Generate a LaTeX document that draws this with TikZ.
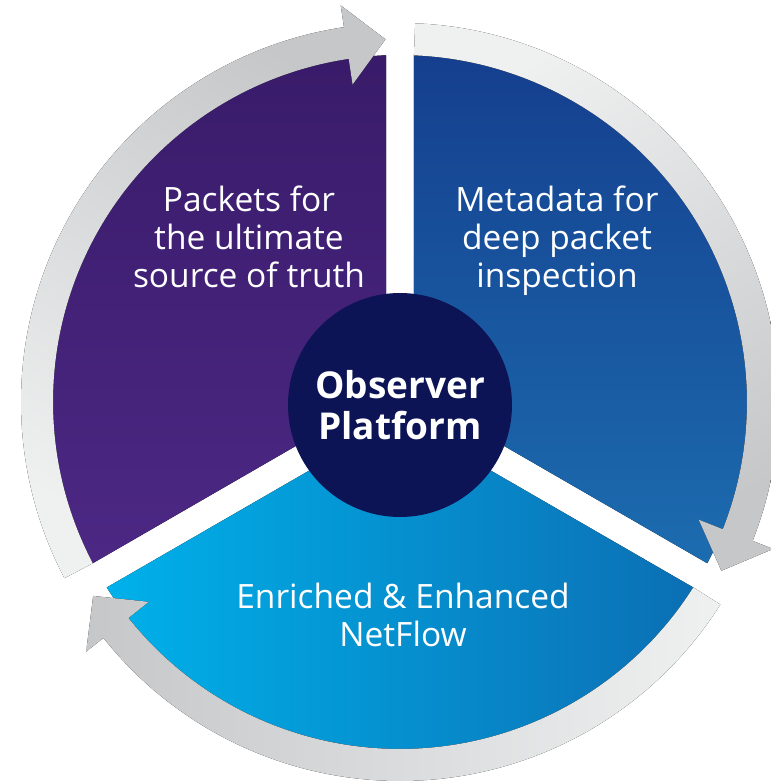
\documentclass[tikz,border=0pt]{standalone}
\usepackage{fontspec}
\setmainfont{Open Sans}
\usepackage{tikz}

\definecolor{packettop}{RGB}{57,27,106}
\definecolor{packetbot}{RGB}{76,40,132}
\definecolor{metatop}{RGB}{21,63,142}
\definecolor{metabot}{RGB}{28,108,176}
\definecolor{flowleft}{RGB}{0,177,234}
\definecolor{flowright}{RGB}{11,111,180}
\definecolor{hubnavy}{RGB}{12,20,85}
\definecolor{arrowdark}{RGB}{198,199,201}
\definecolor{arrowlight}{RGB}{239,240,240}

\def\gap{14}
\def\rpie{347}
\def\rout{379}
\def\drawsector#1#2#3{%
  \fill [#3] ({(#1+#2)/2}:{\gap/sin(60)})
  -- ({#1+asin(\gap/\rpie)}:\rpie)
  arc [start angle={#1+asin(\gap/\rpie)}, end angle={#2-asin(\gap/\rpie)}, radius=\rpie]
  -- cycle;
}
% tail angle, head base angle, tip angle, shading angle
\def\drawarrow#1#2#3#4{%
  \fill [top color=arrowdark, bottom color=arrowlight, shading angle=#4]
  (#1:\rout) arc [start angle=#1, end angle=#2, radius=\rout]
  -- (#2:401) -- (#3:363) -- (#2:321) -- (#2:\rpie)
  arc [start angle=#2, end angle=#1, radius=\rpie] -- cycle;
}

\begin{document}
\begin{tikzpicture}[x=1pt, y=1pt,
  sectortext/.style={text=white, align=center, font=\fontsize{33.5}{38}\selectfont}]

  \useasboundingbox (-400,-380) rectangle (371,402);

  \drawsector{90}{210}{top color=packettop, bottom color=packetbot}
  \drawsector{-30}{90}{top color=metatop, bottom color=metabot}
  \drawsector{210}{330}{left color=flowleft, right color=flowright}

  \drawarrow{207.7}{98.5}{92.3}{-30}
  \drawarrow{87.7}{-21.5}{-27.7}{-150}
  \drawarrow{-32.3}{-141.5}{-147.7}{90}

  \node [circle, fill=hubnavy, minimum size=224pt, inner sep=0pt, text=white,
    align=center, font=\fontsize{37}{41}\selectfont\bfseries] (hub) at (0,-3)
    {Observer\\Platform};

  \node [sectortext] (packets) at (-151,165) {Packets for\\the ultimate\\source of truth};
  \node [sectortext] (metadata) at (157,161) {Metadata for\\deep packet\\inspection};
  \node [sectortext] (netflow) at (3,-213) {Enriched \& Enhanced\\NetFlow};

\end{tikzpicture}
\end{document}
